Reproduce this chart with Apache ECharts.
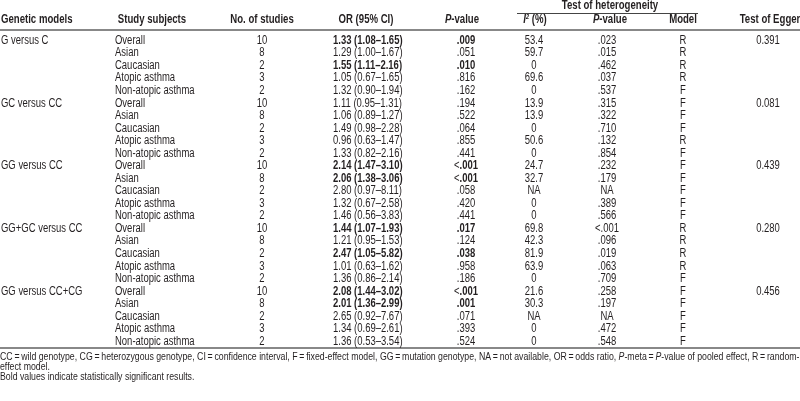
<!DOCTYPE html>
<html><head><meta charset="utf-8">
<script src="https://cdn.jsdelivr.net/npm/echarts@6/dist/echarts.min.js"></script>
<style>html,body{margin:0;padding:0;background:#fff}#c{width:800px;height:401px}</style>
</head><body><div id="c"></div>
<script>
// ---------- data ----------
const geneticModels = ["G versus C","GC versus CC","GG versus CC","GG+GC versus CC","GG versus CC+CG"];
const studySubjects = ["Overall","Asian","Caucasian","Atopic asthma","Non-atopic asthma"];
const numStudies = [10,8,2,3,2, 10,8,2,3,2, 10,8,2,3,2, 10,8,2,3,2, 10,8,2,3,2];
const orCI = [
 "1.33 (1.08–1.65)","1.29 (1.00–1.67)","1.55 (1.11–2.16)","1.05 (0.67–1.65)","1.32 (0.90–1.94)",
 "1.11 (0.95–1.31)","1.06 (0.89–1.27)","1.49 (0.98–2.28)","0.96 (0.63–1.47)","1.33 (0.82–2.16)",
 "2.14 (1.47–3.10)","2.06 (1.38–3.06)","2.80 (0.97–8.11)","1.32 (0.67–2.58)","1.46 (0.56–3.83)",
 "1.44 (1.07–1.93)","1.21 (0.95–1.53)","2.47 (1.05–5.82)","1.01 (0.63–1.62)","1.36 (0.86–2.14)",
 "2.08 (1.44–3.02)","2.01 (1.36–2.99)","2.65 (0.92–7.67)","1.34 (0.69–2.61)","1.36 (0.53–3.54)"];
const pValue = [
 ".009",".051",".010",".816",".162",
 ".194",".522",".064",".855",".441",
 "<.001","<.001",".058",".420",".441",
 ".017",".124",".038",".958",".186",
 "<.001",".001",".071",".393",".524"];
const i2 = [
 "53.4","59.7","0","69.6","0",
 "13.9","13.9","0","50.6","0",
 "24.7","32.7","NA","0","0",
 "69.8","42.3","81.9","63.9","0",
 "21.6","30.3","NA","0","0"];
const hetP = [
 ".023",".015",".462",".037",".537",
 ".315",".322",".710",".132",".854",
 ".232",".179","NA",".389",".566",
 "<.001",".096",".019",".063",".709",
 ".258",".197","NA",".472",".548"];
const model = [
 "R","R","R","R","F",
 "F","F","F","R","F",
 "F","F","F","F","F",
 "R","R","R","R","F",
 "F","F","F","F","F"];
const egger = ["0.391","0.081","0.439","0.280","0.456"];
const significant = [1,0,1,0,0, 0,0,0,0,0, 1,1,0,0,0, 1,0,1,0,0, 1,1,0,0,0];
const headers = ["Genetic models","Study subjects","No. of studies","OR (95% CI)","P-value","I2 (%)","P-value","Model","Test of Egger"];
const groupHeader = "Test of heterogeneity";
const footnotes = [
 "CC\u2009=\u2009wild genotype, CG\u2009=\u2009heterozygous genotype, CI\u2009=\u2009confidence interval, F\u2009=\u2009fixed-effect model, GG\u2009=\u2009mutation genotype, NA\u2009=\u2009not available, OR\u2009=\u2009odds ratio, P-meta\u2009=\u2009P-value of pooled effect, R\u2009=\u2009random-",
 "effect model.",
 "Bold values indicate statistically significant results."];

// ---------- layout ----------
const FONT = '"Liberation Sans",Arial,sans-serif';
const TXT = '#231f20';
const FS = 12;
const SX = 0.79;
const HFS = 12;
const HSX = 0.8;
const cols = [
 {x:1, align:'left'}, {x:115, align:'left'}, {x:262, align:'center'}, {x:333, align:'left'},
 {x:466, align:'center'}, {x:534, align:'center'}, {x:607, align:'center'}, {x:683, align:'center'}, {x:768, align:'center'}];
const headerX = [1,152,262,366,462,535,610,683,770];

const nRows = numStudies.length;
const rowIds = numStudies.map((_,i)=>String(i));

function cell(text, bold){
  if (bold) {
    if (text.startsWith('<')) return '{n|<}{b|' + text.slice(1) + '}';
    return '{b|' + text + '}';
  }
  return text;
}
const rich = {
  n:{fontFamily:FONT,fontSize:FS,fill:TXT},
  b:{fontFamily:FONT,fontSize:FS,fill:TXT,fontWeight:'bold'}
};

const columnsData = [
  numStudies.map((v,i)=> i%5===0 ? [cols[0].x, i, geneticModels[i/5|0], 0] : null).filter(Boolean),
  numStudies.map((v,i)=> [cols[1].x, i, studySubjects[i%5], 0]),
  numStudies.map((v,i)=> [cols[2].x, i, String(v), 0]),
  orCI.map((v,i)=> [cols[3].x, i, v, significant[i]]),
  pValue.map((v,i)=> [cols[4].x, i, v, significant[i]]),
  i2.map((v,i)=> [cols[5].x, i, v, 0]),
  hetP.map((v,i)=> [cols[6].x, i, v, 0]),
  model.map((v,i)=> [cols[7].x, i, v, 0]),
  egger.map((v,g)=> [cols[8].x, g*5, v, 0])
];

const series = columnsData.map((d,ci)=>({
  type:'custom', silent:true, animation:false,
  encode:{x:0,y:1},
  data:d.map(r=>[r[0], r[1]]),
  renderItem:(params, api)=>{
    const row = d[params.dataIndex];
    const pt = api.coord([api.value(0), api.value(1)]);
    const st = {text:cell(row[2], row[3]), align:cols[ci].align, verticalAlign:'middle',
             fontFamily:FONT, fontSize:FS, fill:TXT};
    if (row[3]) st.rich = rich;
    return {type:'text', x:pt[0], y:pt[1] + 0.5, scaleX:SX, style:st};
  }
}));

const chart = echarts.init(document.getElementById('c'), null, {renderer:'canvas'});
const rowH = 12.54;
const gridTop = 40 - rowH/2;
const gridH = rowH*nRows;

const hRich = {
  b:{fontFamily:FONT,fontSize:HFS,fontWeight:'bold',fill:TXT},
  i:{fontFamily:FONT,fontSize:HFS,fontWeight:'bold',fontStyle:'italic',fill:TXT},
  s:{fontFamily:FONT,fontSize:7,fontWeight:'bold',fontStyle:'italic',fill:TXT,verticalAlign:'top',padding:[0,0,5,0]}
};
const graphics = [];
headers.forEach((h,k)=>{
  const st = {align:k===0?'left':'center', verticalAlign:'middle', fontFamily:FONT, fontSize:HFS, fontWeight:'bold', fill:TXT};
  if (h==='P-value') { st.text='{i|P}{b|-value}'; st.rich=hRich; }
  else if (h==='I2 (%)') { st.text='{i|I}{s|2}{b| (%)}'; st.rich=hRich; }
  else st.text = h;
  graphics.push({type:'text', x:headerX[k], y:20, scaleX:HSX, silent:true, style:st});
});
graphics.push({type:'text', x:610, y:6, scaleX:HSX, silent:true,
  style:{text:groupHeader, align:'center', verticalAlign:'middle', fontFamily:FONT, fontSize:HFS, fontWeight:'bold', fill:TXT}});
graphics.push({type:'line', silent:true, shape:{x1:517,y1:13.5,x2:698,y2:13.5}, style:{stroke:'#444',lineWidth:1}});
graphics.push({type:'line', silent:true, shape:{x1:0,y1:30,x2:800,y2:30}, style:{stroke:'#888',lineWidth:2}});
graphics.push({type:'line', silent:true, shape:{x1:0,y1:348,x2:800,y2:348}, style:{stroke:'#888',lineWidth:2}});
const FFS = 11;
const FSX = 0.795;
const fnRich = {
  n:{fontFamily:FONT,fontSize:FFS,fill:TXT},
  i:{fontFamily:FONT,fontSize:FFS,fill:TXT,fontStyle:'italic'}
};
function fnText(s){
  return s.split(/(P-)/).map(t=> t==='P-' ? '{i|P}{n|-}' : (t ? '{n|'+t+'}' : '')).join('');
}
footnotes.forEach((f,k)=>{
  graphics.push({type:'text', x:0, y:357 + k*10, scaleX:FSX, silent:true,
    style:{text:fnText(f), rich:fnRich, align:'left', verticalAlign:'middle', fontFamily:FONT, fontSize:FFS, fill:TXT}});
});

chart.setOption({
  animation:false,
  backgroundColor:'#fff',
  grid:{left:0,right:0,top:gridTop,height:gridH},
  xAxis:{type:'value',min:0,max:800,show:false},
  yAxis:{type:'category',data:rowIds,inverse:true,show:false},
  series:series,
  graphic:graphics
});
</script></body></html>
